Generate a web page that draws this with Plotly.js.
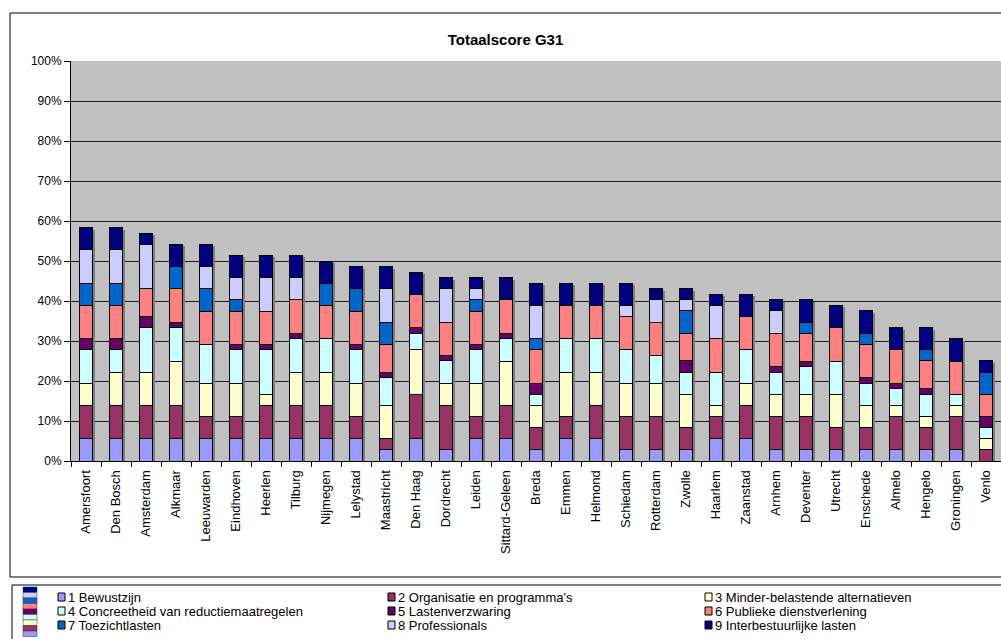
<!DOCTYPE html>
<html>
<head>
<meta charset="utf-8">
<script src="https://cdn.plot.ly/plotly-3.0.1.min.js"></script>
<style>html,body{margin:0;padding:0;background:#fff;}#chart{width:1001px;height:639px;}</style>
</head>
<body>
<div id="chart"></div>
<script>
const categories = ["Amersfoort","Den Bosch","Amsterdam","Alkmaar","Leeuwarden","Eindhoven","Heerlen","Tilburg","Nijmegen","Lelystad","Maastricht","Den Haag","Dordrecht","Leiden","Sittard-Geleen","Breda","Emmen","Helmond","Schiedam","Rotterdam","Zwolle","Haarlem","Zaanstad","Arnhem","Deventer","Utrecht","Enschede","Almelo","Hengelo","Groningen","Venlo"];

const seriesNames = ["1 Bewustzijn","2 Organisatie en programma's","3 Minder-belastende alternatieven","4 Concreetheid van reductiemaatregelen","5 Lastenverzwaring","6 Publieke dienstverlening","7 Toezichtlasten","8 Professionals","9 Interbestuurlijke lasten"];

const colors = ["#9999FF","#993366","#FFFFCC","#CCFFFF","#660066","#FF8080","#0066CC","#CCCCFF","#000080"];

// values in percent
const bewustzijn   = [5.56,5.56,5.56,5.56,5.56,5.56,5.56,5.56,5.56,5.56,2.78,5.56,2.78,5.56,5.56,2.78,5.56,5.56,2.78,2.78,2.78,5.56,5.56,2.78,2.78,2.78,2.78,2.78,2.78,2.78,0];
const organisatie  = [8.33,8.33,8.33,8.33,5.56,5.56,8.33,8.33,8.33,5.56,2.78,11.11,11.11,5.56,8.33,5.56,5.56,8.33,8.33,8.33,5.56,5.56,8.33,8.33,8.33,5.56,5.56,8.33,5.56,8.33,2.78];
const minderBel    = [5.56,8.33,8.33,11.11,8.33,8.33,2.78,8.33,8.33,8.33,8.33,11.11,5.56,8.33,11.11,5.56,11.11,8.33,8.33,8.33,8.33,2.78,5.56,5.56,5.56,8.33,5.56,2.78,2.78,2.78,2.78];
const concreetheid = [8.33,5.56,11.11,8.33,9.72,8.33,11.11,8.33,8.33,8.33,6.94,4.17,5.56,8.33,5.56,2.78,8.33,8.33,8.33,6.94,5.56,8.33,8.33,5.56,6.94,8.33,5.56,4.17,5.56,2.78,2.78];
const lastenverzw  = [2.78,2.78,2.78,1.39,0,1.39,1.39,1.39,0,1.39,1.39,1.39,1.39,1.39,1.39,2.78,0,0,0,0,2.78,0,0,1.39,1.39,0,1.39,1.39,1.39,0,2.78];
const publieke     = [8.33,8.33,6.94,8.33,8.33,8.33,8.33,8.33,8.33,8.33,6.94,8.33,8.33,8.33,8.33,8.33,8.33,8.33,8.33,8.33,6.94,8.33,8.33,8.33,6.94,8.33,8.33,8.33,6.94,8.33,5.56];
const toezicht     = [5.56,5.56,0,5.56,5.56,2.78,0,0,5.56,5.56,5.56,0,0,2.78,0,2.78,0,0,0,0,5.56,0,0,0,2.78,0,2.78,0,2.78,0,5.56];
const professionals= [8.33,8.33,11.11,0,5.56,5.56,8.33,5.56,0,0,8.33,0,8.33,2.78,0,8.33,0,0,2.78,5.56,2.78,8.33,0,5.56,0,0,0,0,0,0,0];
const interbestuur = [5.56,5.56,2.78,5.56,5.56,5.56,5.56,5.56,5.56,5.56,5.56,5.56,2.78,2.78,5.56,5.56,5.56,5.56,5.56,2.78,2.78,2.78,5.56,2.78,5.56,5.56,5.56,5.56,5.56,5.56,2.78];

const allSeries = [bewustzijn,organisatie,minderBel,concreetheid,lastenverzw,publieke,toezicht,professionals,interbestuur];
const totals = categories.map((c,i)=>allSeries.reduce((s,a)=>s+a[i],0));

const FONT = "Liberation Sans, Arial, sans-serif";
const L = 71, R = 1001, T = 61, B = 461;
const px = x => (x - L) / (R - L);
const py = y => (B - y) / (B - T);

const traces = [];
// shadow behind bars
traces.push({
  type:'bar', x: categories, y: totals, base: -0.5,
  xaxis:'x', yaxis:'y', width:0.45, offset:-0.16,
  marker:{color:'#7f7f7f', line:{width:0}}, showlegend:false, hoverinfo:'skip'
});
allSeries.forEach((arr,k)=>{
  traces.push({
    type:'bar', name: seriesNames[k], x: categories, y: arr,
    xaxis:'x2', yaxis:'y',
    marker:{color: colors[k], line:{color:'#000', width:1}},
    showlegend:false
  });
});

const shapes = [];
const annotations = [];
// outer chart border
shapes.push({type:'rect', xref:'paper', yref:'paper', x0:px(10), x1:px(1005), y0:py(577), y1:py(13), line:{color:'#000', width:1}, fillcolor:'rgba(0,0,0,0)', layer:'below'});
// legend box
shapes.push({type:'rect', xref:'paper', yref:'paper', x0:px(12), x1:px(1005), y0:py(650), y1:py(585), line:{color:'#000', width:1}, fillcolor:'rgba(0,0,0,0)'});
// legend strip at left
for (let k=0;k<9;k++){
  const col = colors[8-k];
  const y0 = 587 + k*5.5;
  shapes.push({type:'rect', xref:'paper', yref:'paper', x0:px(23), x1:px(37), y0:py(y0+5.5), y1:py(y0), line:{color:'#333', width:0.5}, fillcolor:col});
}
// legend entries
const colX = [58, 388, 705];
const rowY = [597, 611, 625];
seriesNames.forEach((n,k)=>{
  const c = k%3, r = Math.floor(k/3);
  const x = colX[c], y = rowY[r];
  shapes.push({type:'rect', xref:'paper', yref:'paper', x0:px(x), x1:px(x+7), y0:py(y+4), y1:py(y-4), line:{color:'#000', width:1}, fillcolor:colors[k]});
  annotations.push({xref:'paper', yref:'paper', x:px(x+9), y:py(y), xanchor:'left', yanchor:'middle', showarrow:false, borderpad:0, text:n, font:{family:FONT, size:13, color:'#000'}});
});

const layout = {
  width:1001, height:639,
  margin:{l:L, r:1001-R, t:T, b:639-B, pad:0},
  paper_bgcolor:'#fff', plot_bgcolor:'#C0C0C0',
  barmode:'stack', bargap:0.55,
  title:{text:'<b>Totaalscore G31</b>', font:{family:FONT, size:15, color:'#000'}, xref:'container', x:0.505, y:1-40/639, yanchor:'middle', xanchor:'center'},
  xaxis:{type:'category', range:[-0.5,30.5], tickangle:-90, tickfont:{family:FONT, size:13, color:'#000'},
    showline:true, linecolor:'#000', linewidth:1, ticks:'outside', tickson:'boundaries', ticklen:5, tickcolor:'#000',
    ticklabelstandoff:3, showgrid:false, fixedrange:true},
  xaxis2:{type:'category', range:[-0.5,30.5], overlaying:'x', visible:false, fixedrange:true},
  yaxis:{range:[0,100], dtick:10, ticksuffix:'%', tickfont:{family:FONT, size:12, color:'#000'},
    showline:true, linecolor:'#000', linewidth:1, ticks:'outside', ticklen:6, tickcolor:'#000',
    showgrid:true, gridcolor:'#1a1a1a', gridwidth:1, zeroline:false, fixedrange:true},
  shapes: shapes,
  annotations: annotations,
  showlegend:false,
  font:{family:FONT, color:'#000'}
};

Plotly.newPlot('chart', traces, layout, {displayModeBar:false, staticPlot:true});
</script>
</body>
</html>
